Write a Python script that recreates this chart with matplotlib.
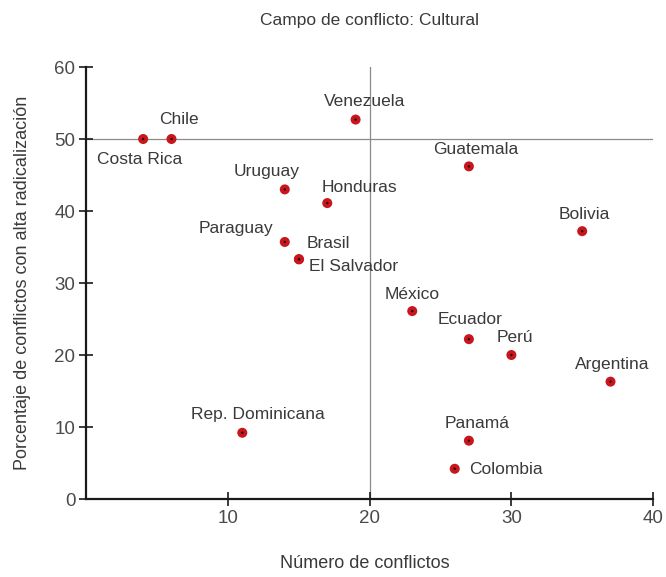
import matplotlib.pyplot as plt

# Número de conflictos vs % con alta radicalización, campo cultural
paises = ['Costa Rica', 'Chile', 'Venezuela', 'Guatemala', 'Uruguay', 'Honduras',
          'Bolivia', 'Paraguay', 'Brasil', 'El Salvador', 'México', 'Ecuador',
          'Perú', 'Argentina', 'Rep. Dominicana', 'Panamá', 'Colombia']
conflictos = [4, 6, 19, 27, 14, 17, 35, 14, 15, 15, 23, 27, 30, 37, 11, 27, 26]
radical = [50, 50, 52.7, 46.2, 43.0, 41.1, 37.2, 35.7, 33.3, 33.3, 26.1, 22.2,
           20.0, 16.3, 9.2, 8.1, 4.2]

# desplazamiento de cada etiqueta respecto a su punto (pixeles)
offsets = [(-4, -20), (7, 20), (9, 18), (7, 17), (-18, 18), (32, 16),
           (2, 17), (-49, 13), (29, 16), (55, -7), (0, 17), (1, 20),
           (4, 18), (2, 17), (16, 18), (8, 17), (51, -1)]

plt.rcParams['font.family'] = ['Liberation Sans', 'DejaVu Sans']
txt = '#3a3a3a'
fs = 12.5

fig = plt.figure(figsize=(6.66, 5.77), dpi=100)
ax = fig.add_axes([86.5 / 666, 1 - 499 / 577, (653 - 86.5) / 666, (499 - 67) / 577])

ax.axvline(20, color='#8a8a8a', lw=0.9, zorder=1)
ax.axhline(50, color='#8a8a8a', lw=0.9, zorder=1)

ax.scatter(conflictos, radical, s=52, color='#c8161d', edgecolors='none', zorder=3)
ax.scatter(conflictos, radical, s=3, color='#2a0a0a', edgecolors='none', zorder=4)

for nombre, x, y, (dx, dy) in zip(paises, conflictos, radical, offsets):
    ax.annotate(nombre, (x, y), xytext=(dx, dy), textcoords='offset pixels',
                ha='center', va='center', fontsize=fs, color=txt)

ax.set_xlim(0, 40)
ax.set_ylim(0, 60)
ax.set_xticks([10, 20, 30, 40])
ax.set_yticks([0, 10, 20, 30, 40, 50, 60])

for s in ['top', 'right']:
    ax.spines[s].set_visible(False)
for s in ['left', 'bottom']:
    ax.spines[s].set_linewidth(1.6)
    ax.spines[s].set_color('#1a1a1a')

ax.tick_params(direction='inout', length=10, width=1.2, color='#1a1a1a',
               labelsize=13.5, labelcolor='#4a4a4a', pad=3)

ax.set_title('Campo de conflicto: Cultural', fontsize=fs, color=txt, pad=30)
ax.set_xlabel('Número de conflictos', fontsize=13, color=txt)
ax.xaxis.set_label_coords(0.492, -0.13)
ax.set_ylabel('Porcentaje de conflictos con alta radicalización', fontsize=13,
              color=txt, labelpad=17)

fig.savefig('out.png', dpi=100)
